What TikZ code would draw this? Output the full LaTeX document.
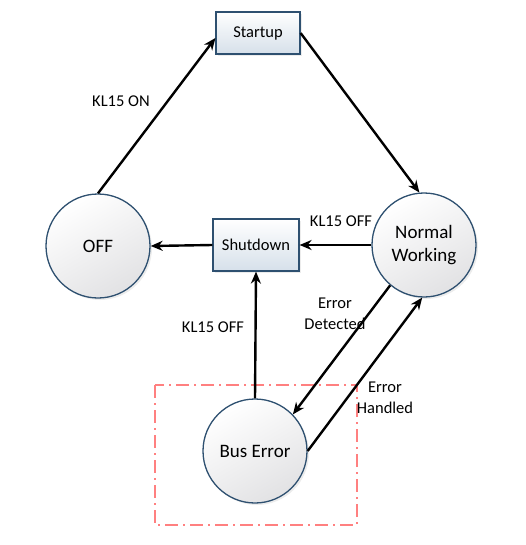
\documentclass[tikz,border=0pt]{standalone}
\usepackage{fontspec}
\setmainfont{Carlito}
\usetikzlibrary{arrows.meta,shadows}
\definecolor{edgeblue}{RGB}{46,80,112}
\definecolor{boxbot}{RGB}{214,224,234}
\definecolor{circbot}{RGB}{226,226,228}
\definecolor{pinkred}{RGB}{255,128,128}
\tikzset{
  state/.style={circle, draw=edgeblue, line width=1.3pt, minimum size=104pt, inner sep=0pt,
    top color=white, bottom color=circbot, shading angle=30,
    drop shadow={opacity=0.15, shadow xshift=2pt, shadow yshift=-2pt},
    font=\fontsize{19}{23}\selectfont, align=center},
  stepbox/.style={rectangle, draw=edgeblue, line width=1.2pt, inner sep=0pt,
    top color=white, bottom color=boxbot,
    drop shadow={opacity=0.15, shadow xshift=2pt, shadow yshift=-2pt},
    font=\fontsize{16.5}{19}\selectfont},
  trans/.style={line width=2.4pt, -{Stealth[length=12pt,width=10pt]}},
  lbl/.style={font=\fontsize{16.5}{20.5}\selectfont, align=center, inner sep=0pt},
}
\begin{document}
\begin{tikzpicture}[x=1pt,y=-1pt]
\useasboundingbox (0,0) rectangle (525,545);
% dash-dot region
\draw[pinkred, line width=1.6pt, dash pattern=on 13pt off 5pt on 2pt off 5pt] (155,385) rectangle (357,525);
% nodes
\node[stepbox, minimum width=84pt, minimum height=42pt] (startup) at (258,33) {Startup};
\node[stepbox, minimum width=86pt, minimum height=52pt] (shutdown) at (256,245) {Shutdown};
\node[state] (off) at (98,246) {OFF};
\node[state] (nw) at (424,245) {Normal\\Working};
\node[state] (bus) at (255,451) {Bus Error};
% transitions
\draw[trans] (off.90) -- ([yshift=-5pt]startup.west);
\draw[trans] (startup.east) -- (nw.95);
\draw[trans] (nw.west) -- (shutdown.east);
\draw[trans] (shutdown.west) -- (off.east);
\draw[trans] (bus.north) -- (shutdown.south);
\draw[trans] (nw.230) -- (bus.44);
\draw[trans] (bus.east) -- (nw.268);
% labels
\node[lbl] (l1) at (121,101) {KL15 ON};
\node[lbl] (l2) at (341,221) {KL15 OFF};
\node[lbl] (l3) at (213,327) {KL15 OFF};
\node[lbl] (l4) at (335,314) {Error\\Detected};
\node[lbl] (l5) at (385,398) {Error\\Handled};
\end{tikzpicture}
\end{document}
